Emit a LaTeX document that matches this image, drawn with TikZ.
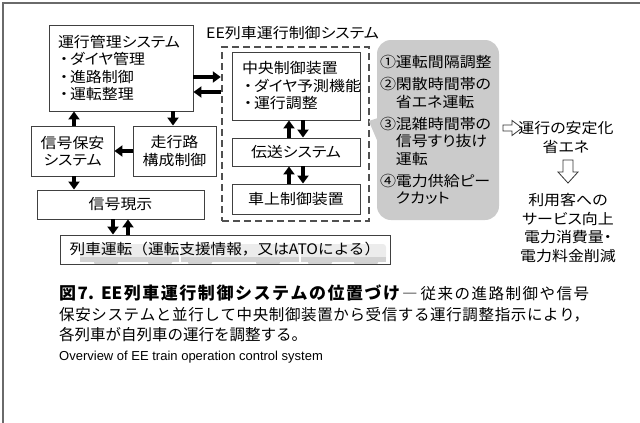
\documentclass[tikz,border=0pt]{standalone}
\usepackage{fontspec}
\setmainfont{Noto Sans CJK JP}[FakeStretch=1.1,RawFeature=+palt]
\newfontfamily\capfont{Noto Sans CJK JP}
\newfontfamily\jpfull{Noto Sans CJK JP}[FakeStretch=1.08]
\newfontfamily\enfont{Liberation Sans}
\usetikzlibrary{arrows.meta,calc}
\definecolor{boxline}{HTML}{404040}
\definecolor{bubgray}{HTML}{CBCBCB}
\definecolor{framegray}{HTML}{6A6A6A}
\definecolor{dashgray}{HTML}{505050}
\definecolor{trainlight}{HTML}{ECECEC}
\definecolor{traindark}{HTML}{D2D2D2}
\newcommand\mybul{\makebox[12pt]{・}}
\begin{document}
\begin{tikzpicture}[x=1pt,y=-1pt,
  txt/.style={font=\fontsize{14.5}{17.5}\selectfont},
  box/.style={txt,draw=boxline,line width=0.9pt,fill=white,inner sep=0pt},
  barrow/.style={line width=4pt,-{Triangle[length=8pt,width=11pt]}},
  hollow/.style={draw=black!80,line width=0.8pt,fill=white,line join=miter}
]
\useasboundingbox (0,0) rectangle (640,423);
\draw[framegray,line width=1.6pt] (640,3) -- (3,3) -- (3,423);

% EE system dashed frame and label
\node[draw=dashgray,line width=2.4pt,dash pattern=on 7pt off 4pt,
      minimum width=147pt,minimum height=174pt,inner sep=0pt] (ee) at (295.5,134) {};
\node[txt,anchor=west,inner sep=0pt] (eelabel) at (206,33) {EE列車運行制御システム};

% boxes
\node[box,minimum width=144pt,minimum height=86pt,text width=126pt,align=left] (unko) at (121,68)
  {運行管理システム\\\mybul ダイヤ管理\\\mybul 進路制御\\\mybul 運転整理};
\node[box,minimum width=128pt,minimum height=68pt,text width=108pt,align=left] (chuo) at (296,86)
  {中央制御装置\\\mybul ダイヤ予測機能\\\mybul 運行調整};
\node[box,minimum width=128pt,minimum height=28pt] (denso) at (296,152) {伝送システム};
\node[box,minimum width=128pt,minimum height=30pt] (shajo) at (296,199) {車上制御装置};
\node[box,minimum width=83pt,minimum height=50pt,align=center] (shingo) at (72.5,151) {信号保安\\システム};
\node[box,minimum width=83pt,minimum height=50pt,align=center] (soko) at (174.5,151) {走行路\\構成制御};
\node[box,minimum width=167pt,minimum height=29pt] (genji) at (120.5,204.5) {信号現示};

% train silhouette behind the train-operation box
\fill[trainlight,rounded corners=3pt] (80,244) rectangle (386,262);
\fill[traindark] (80,257) rectangle (386,262);
\foreach \gx in {180,300}
  \fill[white] (\gx-1,244) rectangle (\gx+1,262);
\foreach \bx in {106,160,200,268,320,366}
  \fill[traindark,rounded corners=2pt] (\bx-12,259) rectangle (\bx+12,264.5);
\node[box,fill=none,minimum width=330pt,minimum height=29pt,font=\jpfull\fontsize{14.5}{17.5}\selectfont] (ressha) at (225,249.5)
  {列車運転（運転支援情報，又はATOによる）};

% arrows
\draw[barrow] ([yshift=-9pt]unko.east) -- ([yshift=-9pt]unko.east -| ee.west);
\draw[barrow] ([yshift=-24pt]unko.east -| ee.west) -- ([yshift=-24pt]unko.east);
\draw[barrow] ([xshift=-7pt]denso.north) -- ([xshift=-7pt]chuo.south);
\draw[barrow] ([xshift=7pt]chuo.south) -- ([xshift=7pt]denso.north);
\draw[barrow] ([xshift=-7pt]shajo.north) -- ([xshift=-7pt]denso.south);
\draw[barrow] ([xshift=7pt]denso.south) -- ([xshift=7pt]shajo.north);
\draw[barrow] ([xshift=1.5pt]shingo.north) -- ([xshift=1.5pt]shingo.north |- unko.south);
\draw[barrow] ([xshift=-1.5pt]soko.north |- unko.south) -- ([xshift=-1.5pt]soko.north);
\draw[barrow] (soko.west) -- (shingo.east);
\draw[barrow] ([xshift=1.5pt]shingo.south) -- ([xshift=1.5pt]shingo.south |- genji.north);
\draw[barrow] ([xshift=-7.5pt]genji.south) -- ([xshift=-7.5pt]genji.south |- ressha.north);
\draw[barrow] ([xshift=7.5pt]genji.south |- ressha.north) -- ([xshift=7.5pt]genji.south);

% gray bubble
\node[txt,fill=bubgray,rounded corners=14pt,minimum width=122pt,minimum height=180pt,
      inner sep=0pt,text width=116pt,align=left] (bub) at (438,130)
  {①運転間隔調整\\[4.5pt]②閑散時間帯の\\　省エネ運転\\[4.5pt]③混雑時間帯の\\　信号すり抜け\\　運転\\[4.5pt]④電力供給ピー\\　クカット};
\fill[bubgray] ([xshift=1pt,yshift=12pt]bub.west) -- ([xshift=-8pt,yshift=9pt]bub.west)
  -- ([xshift=1pt,yshift=-12pt]bub.west) -- cycle;

% effects
\draw[hollow] (503,125) -- (512,125) -- (512,120.5) -- (522,128) -- (512,135.5) -- (512,131) -- (503,131) -- cycle;
\node[txt,inner sep=0pt] (antei) at (566,128) {運行の安定化};
\node[txt,inner sep=0pt] (shoene) at (566,147) {省エネ};
\draw[hollow] (563,160) -- (573,160) -- (573,172) -- (578,172) -- (568,183) -- (558,172) -- (563,172) -- cycle;
\node[txt,inner sep=0pt,align=center,font=\fontsize{14.5}{18.5}\selectfont] (riyo) at (568,228)
  {利用客への\\サービス向上\\電力消費量・\\電力料金削減};

% caption
\node[anchor=west,inner sep=0pt,text width=530pt,align=justify,
      font=\capfont\fontsize{15.5}{20.5}\selectfont] (caption) at (59,313.5)
  {\XeTeXlinebreaklocale "ja"\XeTeXlinebreakskip=0pt plus 4pt\relax
   {\fontsize{17}{20.5}\selectfont\bfseries 図7.\hspace{7pt}EE列車運行制御システムの位置づけ}\hspace{2pt}―\hspace{3pt}従来の進路制御や信号\linebreak
   保安システムと並行して中央制御装置から受信する運行調整指示により，\linebreak
   各列車が自列車の運行を調整する。};
\node[anchor=west,inner sep=0pt,font=\enfont\fontsize{13}{15}\selectfont] (en) at (59,357)
  {Overview of EE train operation control system};
\end{tikzpicture}
\end{document}
